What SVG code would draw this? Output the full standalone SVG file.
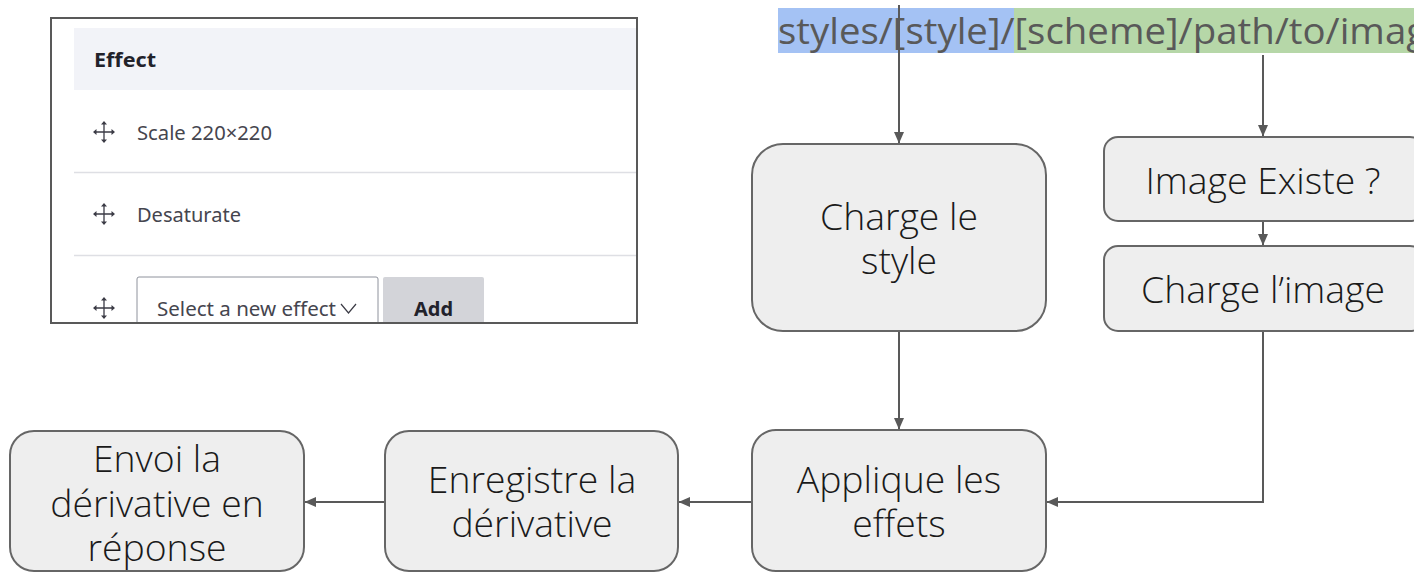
<svg xmlns="http://www.w3.org/2000/svg" width="1414" height="572" viewBox="0 0 1414 572">
<style>
.box{fill:#eeeeee;stroke:#666666;stroke-width:2}
.lbl{font-family:"Open Sans","Noto Sans",sans-serif;font-weight:300;font-size:37.33px;fill:#1a1a1a;text-anchor:middle}
.path{font-family:"Open Sans","Noto Sans",sans-serif;font-size:38.4px;fill:#595959}
.ui{font-family:"Noto Sans","Open Sans",sans-serif;font-size:20px;fill:#45454e}
.conn{fill:none;stroke:#595959;stroke-width:2}
.mv{fill:none;stroke:#3b3b45;stroke-width:1.3}
</style>
<defs>
<marker id="arrow" markerUnits="userSpaceOnUse" markerWidth="13" markerHeight="12" refX="11" refY="6" orient="auto"><path d="M0 1L11.500 6L0 11Z" fill="#595959"/></marker>
<clipPath id="shot"><rect x="52" y="19" width="584" height="303"/></clipPath>
<g id="move"><path class="mv" d="M0-10V10M-10 0H10"/><path fill="#3b3b45" d="M-3-7.500L0-11L3-7.500ZM-3 7.500L0 11L3 7.500ZM-7.500-3L-11 0L-7.500 3ZM7.500-3L11 0L7.500 3Z"/></g>
</defs>
<g id="screenshot">
<rect x="51" y="18" width="586" height="305" fill="#ffffff"/>
<g clip-path="url(#shot)">
<rect x="74" y="28" width="562" height="62" fill="#f2f3f8"/>
<path d="M74 172.500H636M74 255.500H636" stroke="#dedfe4" stroke-width="1.500"/>
<text class="ui" x="94" y="67" style="font-weight:700;fill:#22222b" textLength="62" lengthAdjust="spacingAndGlyphs">Effect</text>
<use href="#move" x="104" y="132"/>
<text class="ui" x="137" y="140" textLength="135" lengthAdjust="spacingAndGlyphs">Scale 220×220</text>
<use href="#move" x="104" y="214"/>
<text class="ui" x="137" y="222" textLength="104" lengthAdjust="spacingAndGlyphs">Desaturate</text>
<use href="#move" x="104" y="308"/>
<rect x="137" y="277" width="241" height="60" rx="2" fill="#ffffff" stroke="#8e929c" stroke-width="1"/>
<text class="ui" x="157" y="316" textLength="179" lengthAdjust="spacingAndGlyphs">Select a new effect</text>
<path d="M341 304L348.500 313L356 304" fill="none" stroke="#3b3b45" stroke-width="1.200"/>
<rect x="383" y="277" width="101" height="60" rx="2" fill="#d3d4d9"/>
<text class="ui" x="414" y="316" style="font-weight:700;fill:#22222b" textLength="39" lengthAdjust="spacingAndGlyphs">Add</text>
</g>
<rect x="51" y="18" width="586" height="305" fill="none" stroke="#595959" stroke-width="2"/>
</g>
<g id="path-label">
<rect x="778" y="8" width="236" height="45" fill="#a4c2f4"/>
<rect x="1014" y="8" width="400" height="45" fill="#b6d7a8"/>
<text class="path" transform="translate(778 44) scale(1 .93)">styles/[style]/[scheme]/path/to/image</text>
</g>
<g id="connectors">
<path class="conn" d="M899 5V143" marker-end="url(#arrow)"/>
<path class="conn" d="M1263 55V136" marker-end="url(#arrow)"/>
<path class="conn" d="M1263 221V245" marker-end="url(#arrow)"/>
<path class="conn" d="M899 331V429" marker-end="url(#arrow)"/>
<path class="conn" d="M1263 331V502H1047" marker-end="url(#arrow)"/>
<path class="conn" d="M752 502H679" marker-end="url(#arrow)"/>
<path class="conn" d="M385 502H305" marker-end="url(#arrow)"/>
</g>
<g id="node-style"><rect class="box" x="752" y="144" width="294" height="187" rx="31"/><text class="lbl" x="899" y="230">Charge le</text><text class="lbl" x="899" y="274">style</text></g>
<g id="node-exists"><rect class="box" x="1104" y="137" width="320" height="84" rx="14"/><text class="lbl" x="1263" y="194">Image Existe ?</text></g>
<g id="node-load"><rect class="box" x="1104" y="246" width="320" height="85" rx="14"/><text class="lbl" x="1263" y="303">Charge l’image</text></g>
<g id="node-apply"><rect class="box" x="752" y="430" width="294" height="141" rx="24"/><text class="lbl" x="899" y="493">Applique les</text><text class="lbl" x="899" y="537">effets</text></g>
<g id="node-save"><rect class="box" x="385" y="431" width="293" height="140" rx="24"/><text class="lbl" x="532" y="493">Enregistre la</text><text class="lbl" x="532" y="537">dérivative</text></g>
<g id="node-send"><rect class="box" x="10" y="431" width="294" height="140" rx="24"/><text class="lbl" x="157" y="472">Envoi la</text><text class="lbl" x="157" y="517">dérivative en</text><text class="lbl" x="157" y="561">réponse</text></g>
</svg>
